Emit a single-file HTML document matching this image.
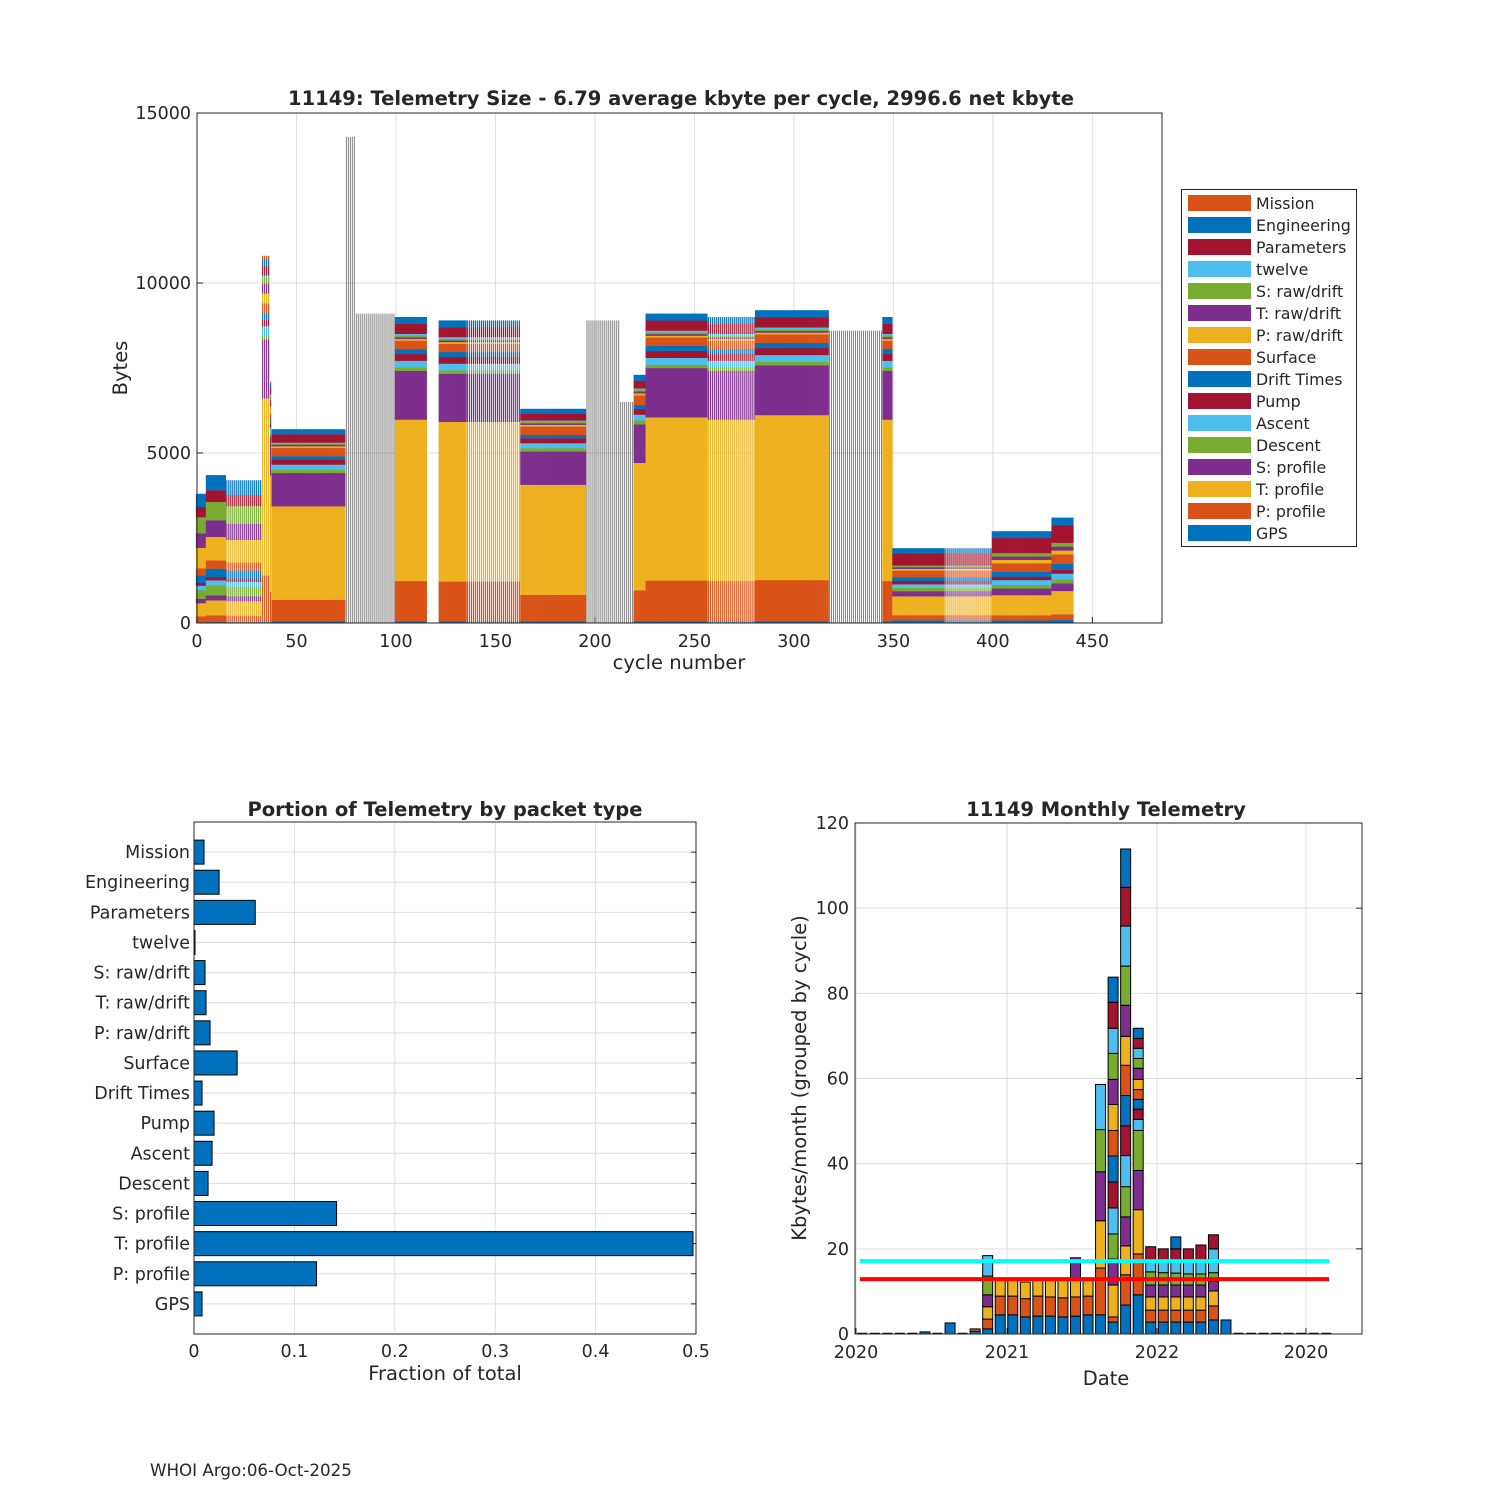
<!DOCTYPE html>
<html><head><meta charset="utf-8"><style>
body{margin:0;background:#fff;}
svg text{font-family:"DejaVu Sans","Liberation Sans",sans-serif;fill:#262626;}
</style></head><body>
<svg id="svg" width="1500" height="1500" viewBox="0 0 1500 1500" xmlns="http://www.w3.org/2000/svg">
<rect width="1500" height="1500" fill="#fff"/>
<g id="top"></g>
<g id="bl"></g>
<g id="br"></g>
<text x="150" y="1476" font-size="16.7">WHOI Argo:06-Oct-2025</text>
</svg>
<script>
// ---------- data ----------
const categories = ["GPS","P: profile","T: profile","S: profile","Descent","Ascent","Pump","Drift Times","Surface","P: raw/drift","T: raw/drift","S: raw/drift","twelve","Parameters","Engineering","Mission"];
const catColors = ["#0072BD","#D95319","#EDB120","#7E2F8E","#77AC30","#4DBEEE","#A2142F","#0072BD","#D95319","#EDB120","#7E2F8E","#77AC30","#4DBEEE","#A2142F","#0072BD","#D95319"];
const compEarly = [30,200,450,150,300,150,100,250,250,700,500,550,0,350,450,0];
const compSpike = [50,1400,5400,1800,100,300,200,200,300,300,300,200,50,300,200,100];
const compMid = [50,650,2800,1000,100,150,150,100,250,50,50,30,30,250,150,0];
const compFull = [50,1200,4800,1450,100,200,200,150,250,50,50,50,50,300,200,0];
const compDip = [50,800,3300,1000,100,150,150,100,250,50,50,50,30,200,150,0];
const compLow = [80,150,550,150,100,100,100,100,200,50,50,50,0,350,150,0];
const compLate = [80,150,600,200,100,150,100,150,250,100,100,100,0,450,200,0];
const comps = [compEarly,compSpike,compMid,compFull,compDip,compLow,compLate];
const blockStart = [0,5,15,33,37,38,75,80,100,122,136,163,196,213,220,226,257,281,318,345,350,376,400,430];
const blockEnd   = [4,14,32,36,37,74,79,99,115,135,162,195,212,219,225,256,280,317,344,349,375,399,429,440];
const blockStyle = ["solid","solid","striped","striped","striped","solid","outline","outline","solid","solid","striped","solid","outline","outline","solid","solid","striped","solid","outline","solid","solid","striped","solid","solid"];
const blockComp  = [0,0,0,1,1,2,3,3,3,3,3,4,3,3,4,3,3,3,3,3,5,5,6,6];
const blockTotal = [3800,4350,4200,10800,7100,5700,14300,9100,9000,8900,8900,6300,8900,6500,7300,9100,9000,9200,8600,9000,2200,2200,2700,3100];

const fracLabels = ["Mission","Engineering","Parameters","twelve","S: raw/drift","T: raw/drift","P: raw/drift","Surface","Drift Times","Pump","Ascent","Descent","S: profile","T: profile","P: profile","GPS"];
const fracValues = [0.010,0.025,0.061,0.001,0.011,0.012,0.016,0.043,0.008,0.020,0.018,0.014,0.142,0.497,0.122,0.008];

const monthIndex = [0,1,2,3,4,5,6,7,8,9,10,11,12,13,14,15,16,17,18,19,20,21,22,23,24,25,26,27,28,29,30,31,32,33,34,35,36,37];
const monthSegments = [[],[],[],[],[],[0.5],[],[2.6],[],[0.6,0.6],
 [1.2,2.3,2.9,2.8,4.4,4.8],[4.5,4.4,4.1],[4.5,4.4,4.1],[4.0,4.3,3.9],[4.2,4.7,4.1],[4.2,4.5,4.3],[4.0,4.5,4.5],[4.2,4.5,4.3,4.9],[4.5,4.4,4.1],
 [4.5,11.0,11.1,11.5,9.9,10.6],
 [2.8,1.2,7.5,6.1,5.9,6.1,6.1,6.1,6.0,6.1,5.9,6.1,5.9,6.1,5.9],
 [6.8,7.1,6.8,6.8,7.1,7.3,7.0,7.1,7.1,6.8,7.3,9.2,9.4,9.1,9.0],
 [9.2,9.6,10.4,9.2,9.4,2.6,2.4,2.3,2.3,2.4,2.6,2.3,2.4,2.3,2.4],
 [2.8,2.8,3.1,2.8,3.1,2.9,3.0],[2.8,2.8,3.1,2.8,2.9,2.9,2.7],[2.8,2.8,3.1,2.8,2.8,3.2,2.5,2.8],[2.8,2.8,3.1,2.8,2.6,3.2,2.7],[2.8,2.8,3.1,2.8,2.6,3.2,3.6],
 [3.3,3.3,3.5,2.3,2.0,5.6,3.3],[3.3],[],[],[],[],[],[],[],[]];
const monthColors = ["#0072BD","#D95319","#EDB120","#7E2F8E","#77AC30","#4DBEEE","#A2142F"];
const meanLines = [17.1,12.9];

// ---------- helpers ----------
const NS="http://www.w3.org/2000/svg";
function mk(parent,tag,attrs,txt){const e=document.createElementNS(NS,tag);for(const k in attrs)e.setAttribute(k,attrs[k]);if(txt!==undefined)e.textContent=txt;parent.appendChild(e);return e;}
const TICK=17.5, TITLE=19.5, AXT=19.5;

// ---------- top chart ----------
(function(){
 const g=document.getElementById('top');
 const X0=197,X1=1162,Y0=623,Y1=113;
 const xs=c=>X0+c*(X1-X0)/485, ys=v=>Y0-v*(Y0-Y1)/15000;
 [0,50,100,150,200,250,300,350,400,450].forEach(t=>{
  const l=mk(g,'line',{x1:xs(t),x2:xs(t),y1:Y1,y2:Y0,stroke:'#dfdfdf','stroke-width':1});
  
  
  const tx=mk(g,'text',{x:xs(t),y:Y0+24,'font-size':TICK,'text-anchor':'middle'},String(t));
  
  
  mk(g,'line',{x1:xs(t),x2:xs(t),y1:Y0,y2:Y0-6,stroke:'#262626'});
 });
 [0,5000,10000,15000].forEach(t=>{
  const l=mk(g,'line',{x1:X0,x2:X1,y1:ys(t),y2:ys(t),stroke:'#dfdfdf','stroke-width':1});
  
  
  const tx=mk(g,'text',{x:X0-6,y:ys(t)+6,'font-size':TICK,'text-anchor':'end'},String(t));
  
  
  mk(g,'line',{x1:X0,x2:X0+6,y1:ys(t),y2:ys(t),stroke:'#262626'});
 });
 const bw=(X1-X0)/485;
 const bars=mk(g,'g',{});
 
 
 for(let b=0;b<blockStart.length;b++){
  const comp=comps[blockComp[b]];const sum=comp.reduce((a,v)=>a+v,0);
  for(let c=blockStart[b];c<=blockEnd[b];c++){
   const st=blockStyle[b];
   if(st==='outline'){
    const r=mk(bars,'rect',{x:xs(c)-0.3,y:ys(blockTotal[b]),width:0.6,height:Y0-ys(blockTotal[b]),fill:'#333'});
    
    
    continue;
   }
   const w=st==='striped'?bw*0.6:bw+0.3;
   let acc=0;
   for(let k=0;k<comp.length;k++){
    const v=comp[k]*blockTotal[b]/sum; if(v<=0)continue;
    const r=mk(bars,'rect',{x:xs(c)-w/2,y:ys(acc+v),width:w,height:ys(acc)-ys(acc+v)+0.2,fill:catColors[k]});
    
    
    acc+=v;
   }
  }
 }
 mk(g,'rect',{x:X0,y:Y1,width:X1-X0,height:Y0-Y1,fill:'none',stroke:'#262626','stroke-width':1});
 const t=mk(g,'text',{x:681,y:105,'font-size':TITLE,'font-weight':'bold','text-anchor':'middle',fill:'#000'},'11149: Telemetry Size - 6.79 average kbyte per cycle, 2996.6 net kbyte');
 
 const yl=mk(g,'text',{x:127,y:368,'font-size':AXT,'text-anchor':'middle',transform:'rotate(-90 127 368)'},'Bytes');
 
 const xl=mk(g,'text',{x:679,y:669,'font-size':AXT,'text-anchor':'middle'},'cycle number');
 
 // legend
 const lg=mk(g,'g',{});
 
 mk(lg,'rect',{x:1181.5,y:189.5,width:175,height:357,fill:'#fff',stroke:'#262626'});
 for(let i=0;i<16;i++){
  const k=15-i;
  const e=mk(lg,'g',{});
  
  mk(e,'rect',{x:1188,y:195+22*i,width:63,height:16,fill:catColors[k]});
  mk(e,'text',{x:1256,y:209+22*i,'font-size':15.8},categories[k]);
 }
})();

// ---------- bottom-left ----------
(function(){
 const g=document.getElementById('bl');
 const X0=194,X1=696,Y0=1334,Y1=822;
 const xs=v=>X0+v*(X1-X0)/0.5;
 const step=(Y0-Y1)/17;
 const yc=i=>Y1+step*(i+1);
 [0,0.1,0.2,0.3,0.4,0.5].forEach(t=>{
  mk(g,'line',{x1:xs(t),x2:xs(t),y1:Y1,y2:Y0,stroke:'#dfdfdf'});
  const tx=mk(g,'text',{x:xs(t),y:Y0+23,'font-size':TICK,'text-anchor':'middle'},String(t));
  
 });
 fracLabels.forEach((lab,i)=>{
  mk(g,'line',{x1:X0,x2:X1,y1:yc(i),y2:yc(i),stroke:'#dfdfdf'});
  mk(g,'line',{x1:X1,x2:X1-5,y1:yc(i),y2:yc(i),stroke:'#262626'});
  const tx=mk(g,'text',{x:X0-4,y:yc(i)+6,'font-size':TICK,'text-anchor':'end'},lab);
  
 });
 fracValues.forEach((v,i)=>{
  const r=mk(g,'rect',{x:X0,y:yc(i)-12,width:xs(v)-X0,height:24,fill:'#0072BD',stroke:'#000','stroke-width':1});
  
 });
 mk(g,'rect',{x:X0,y:Y1,width:X1-X0,height:Y0-Y1,fill:'none',stroke:'#262626'});
 const t=mk(g,'text',{x:445,y:816,'font-size':TITLE,'font-weight':'bold','text-anchor':'middle',fill:'#000'},'Portion of Telemetry by packet type');
 
 const xl=mk(g,'text',{x:445,y:1380,'font-size':AXT,'text-anchor':'middle'},'Fraction of total');
 
})();

// ---------- bottom-right ----------
(function(){
 const g=document.getElementById('br');
 const X0=855,X1=1362,Y0=1334,Y1=823;
 const ys=v=>Y0-v*(Y0-Y1)/120;
 const mw=150.5/12;
 const xm=i=>856+(i+0.5)*mw;
 [[2020,856],[2021,1007],[2022,1157],[2020,1306]].forEach(([lab,x])=>{
  mk(g,'line',{x1:x,x2:x,y1:Y1,y2:Y0,stroke:'#dfdfdf'});
  mk(g,'line',{x1:x,x2:x,y1:Y0,y2:Y0-6,stroke:'#262626'});
  const tx=mk(g,'text',{x:x,y:Y0+24,'font-size':TICK,'text-anchor':'middle'},String(lab));
  
 });
 [0,20,40,60,80,100,120].forEach(t=>{
  mk(g,'line',{x1:X0,x2:X1,y1:ys(t),y2:ys(t),stroke:'#dfdfdf'});
  mk(g,'line',{x1:X1,x2:X1-6,y1:ys(t),y2:ys(t),stroke:'#262626'});
  const tx=mk(g,'text',{x:X0-6,y:ys(t)+6,'font-size':TICK,'text-anchor':'end'},String(t));
  
 });
 monthIndex.forEach(i=>{
  const segs=monthSegments[i];
  if(!segs.length){
   const l=mk(g,'line',{x1:xm(i)-5,x2:xm(i)+5,y1:Y0-0.5,y2:Y0-0.5,stroke:'#000','stroke-width':1.5});
   
   return;
  }
  let acc=0;
  segs.forEach((v,k)=>{
   const r=mk(g,'rect',{x:xm(i)-5,y:ys(acc+v),width:10,height:ys(acc)-ys(acc+v),fill:monthColors[k%7],stroke:'#000','stroke-width':1});
   
   acc+=v;
  });
 });
 const c1=mk(g,'line',{x1:860,x2:1329,y1:ys(meanLines[0]),y2:ys(meanLines[0]),stroke:'#00FFFF','stroke-width':4});
 
 const c2=mk(g,'line',{x1:860,x2:1329,y1:ys(meanLines[1]),y2:ys(meanLines[1]),stroke:'#FF0000','stroke-width':4});
 
 mk(g,'rect',{x:X0,y:Y1,width:X1-X0,height:Y0-Y1,fill:'none',stroke:'#262626'});
 const t=mk(g,'text',{x:1106,y:816,'font-size':TITLE,'font-weight':'bold','text-anchor':'middle',fill:'#000'},'11149 Monthly Telemetry');
 
 const xl=mk(g,'text',{x:1106,y:1385,'font-size':AXT,'text-anchor':'middle'},'Date');
 
 const yl=mk(g,'text',{x:806,y:1078,'font-size':AXT,'text-anchor':'middle',transform:'rotate(-90 806 1078)'},'Kbytes/month (grouped by cycle)');
 
})();
</script>
</body></html>
